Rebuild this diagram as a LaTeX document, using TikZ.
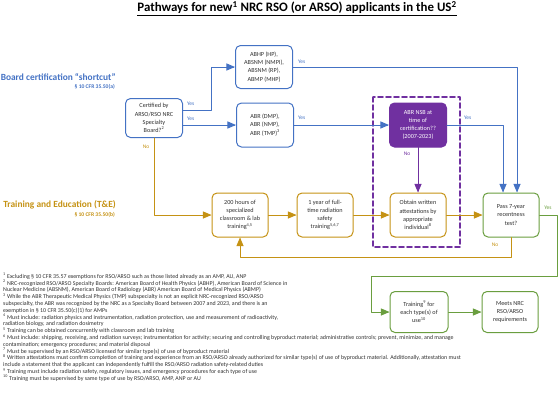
\documentclass[tikz,border=0pt]{standalone}
\usepackage{fontspec}
\setmainfont{Carlito}
\usetikzlibrary{arrows}
\definecolor{bcblue}{HTML}{4472C4}
\definecolor{tegold}{HTML}{C59214}
\definecolor{rtgreen}{HTML}{6A9E3F}
\definecolor{nsbpurple}{HTML}{7030A0}
\definecolor{boxtext}{HTML}{303030}

\begin{document}
\begin{tikzpicture}[line cap=round,line join=round,>=triangle 45,x=1pt,y=-1pt,
  box/.style={draw,line width=1pt,rounded corners=5pt,fill=white,text=boxtext,align=center,
    minimum width=57pt,minimum height=43pt,inner sep=1pt,font=\fontsize{6.2}{8.2}\selectfont},
  bbox/.style={box,draw=bcblue},
  gbox/.style={box,draw=tegold},
  rbox/.style={box,draw=rtgreen},
  bline/.style={draw=bcblue,line width=1pt},
  gline/.style={draw=tegold,line width=1pt},
  rline/.style={draw=rtgreen,line width=1pt},
  yn/.style={font=\fontsize{5.5}{6}\selectfont,inner sep=1pt}]
\useasboundingbox (0,0) rectangle (560,407);

% heading
\node (title) at (297,8.5) {\fontsize{12.9}{14}\selectfont\bfseries\underline{Pathways for new\textsuperscript{1} NRC RSO (or ARSO) applicants in the US\textsuperscript{2}}};

% the two routes
\node[anchor=east,text=bcblue,inner sep=0pt] (bclabel) at (116,77) {\fontsize{9.4}{11}\selectfont\bfseries Board certification ``shortcut''};
\node[anchor=east,text=bcblue,inner sep=0pt] (bccfr) at (115,87) {\fontsize{5.6}{6}\selectfont\bfseries § 10 CFR 35.50(a)};
\node[anchor=east,text=tegold,inner sep=0pt] (telabel) at (116,205) {\fontsize{9.4}{11}\selectfont\bfseries Training and Education (T\&E)};
\node[anchor=east,text=tegold,inner sep=0pt] (tecfr) at (115,215) {\fontsize{5.6}{6}\selectfont\bfseries § 10 CFR 35.50(b)};

% boards
\node[bbox,minimum height=39pt] (cert) at (154,118) {Certified by\\ARSO/RSO NRC\\Specialty\\Board?\textsuperscript{2}};
\node[bbox] (abhp) at (264,67) {ABHP (HP),\\ABSNM (NMPI),\\ABSNM (RP),\\ABMP (MHP)};
\node[bbox,minimum height=44pt] (abr) at (265,125) {ABR (DMP),\\ABR (NMP),\\ABR (TMP)\textsuperscript{3}};

% NSB question inside the dashed frame
\draw[nsbpurple,line width=1.6pt,dash pattern=on 5pt off 3pt] (373,97) rectangle (460,247);
\node[box,draw=nsbpurple,fill=nsbpurple,text=white,minimum height=44pt] (nsb) at (418,125) {ABR NSB at\\time of\\certification??\\(2007-2023)};

% T&E chain
\node[gbox,minimum width=56pt,minimum height=44pt] (hours) at (240,215) {200 hours of\\specialized\\classroom \& lab\\training\textsuperscript{4,5}};
\node[gbox,minimum width=56pt,minimum height=44pt] (year) at (325,215) {1 year of full-\\time radiation\\safety\\training\textsuperscript{5,6,7}};
\node[gbox,minimum width=56pt,minimum height=44pt] (obtain) at (418,215) {Obtain written\\attestations by\\appropriate\\individual\textsuperscript{8}};
\node[rbox,minimum width=56pt,minimum height=44pt] (pass) at (511,215) {Pass 7-year\\recentness\\test?};
\node[rbox,minimum width=58pt,minimum height=41pt] (train) at (419,312) {Training\textsuperscript{9} for\\each type(s) of\\use\textsuperscript{10}};
\node[rbox,minimum width=56pt,minimum height=41pt] (meets) at (510,312) {Meets NRC\\RSO/ARSO\\requirements};

% board connectors
\draw[bline,->] ([yshift=8pt]cert.east) -- ++(28,0) |- (abhp.west);
\node[yn,text=bcblue,anchor=west] at (186,104) {Yes};
\draw[bline,->] (cert.east |- abr.west) -- (abr.west);
\node[yn,text=bcblue,anchor=west] at (186,119) {Yes};
\draw[bline,->] (abhp.east) -| ([xshift=6pt]pass.north);
\node[yn,text=bcblue,anchor=west] at (297,62) {Yes};
\draw[bline,->] (abr.east) -- (nsb.west);
\node[yn,text=bcblue,anchor=west] at (297,118) {Yes};
\draw[bline,->] (nsb.east) -| ([xshift=-8pt]pass.north);
\node[yn,text=bcblue,anchor=west] at (463,118) {Yes};
\draw[nsbpurple,line width=1pt,->] (nsb.south) -- (obtain.north);
\node[yn,text=nsbpurple] at (407,154) {No};

% T&E connectors
\draw[gline,->] (cert.south) |- (hours.west);
\node[yn,text=tegold] at (146,147) {No};
\draw[gline,->] (hours) -- (year);
\draw[gline,->] (year) -- (obtain);
\draw[gline,->] (obtain) -- (pass);
\draw[gline,->] (pass.south) -- ++(0,20) -| (hours.south);
\node[yn,text=tegold] at (495,245) {No};

% recentness passed
\draw[rline,->] (pass.east) -- ++(18,0) -- ++(0,61) -| ([xshift=-18pt]train.west) -- (train.west);
\node[yn,text=rtgreen] at (548,208) {Yes};
\draw[rline,->] (train) -- (meets);

% notes
\node[anchor=north west,align=left,inner sep=0pt,text=boxtext,font=\fontsize{5.92}{6.8}\selectfont] (notes) at (3,273) {%
\textsuperscript{1} Excluding § 10 CFR 35.57 exemptions for RSO/ARSO such as those listed already as an AMP, AU, ANP\\
\textsuperscript{2} NRC-recognized RSO/ARSO Specialty Boards: American Board of Health Physics (ABHP), American Board of Science in\\
Nuclear Medicine (ABSNM), American Board of Radiology (ABR) American Board of Medical Physics (ABMP)\\
\textsuperscript{3} While the ABR Therapeutic Medical Physics (TMP) subspecialty is not an explicit NRC-recognized RSO/ARSO\\
subspecialty, the ABR was recognized by the NRC as a Specialty Board between 2007 and 2023, and there is an\\
exemption in § 10 CFR 35.50(c)(1) for AMPs\\
\textsuperscript{4} Must include: radiation physics and instrumentation, radiation protection, use and measurement of radioactivity,\\
radiation biology, and radiation dosimetry\\
\textsuperscript{5} Training can be obtained concurrently with classroom and lab training\\
\textsuperscript{6} Must include: shipping, receiving, and radiation surveys; instrumentation for activity; securing and controlling byproduct material; administrative controls; prevent, minimize, and manage\\
contamination; emergency procedures; and material disposal\\
\textsuperscript{7} Must be supervised by an RSO/ARSO licensed for similar type(s) of use of byproduct material\\
\textsuperscript{8} Written attestations must confirm completion of training and experience from an RSO/ARSO already authorized for similar type(s) of use of byproduct material. Additionally, attestation must\\
include a statement that the applicant can independently fulfill the RSO/ARSO radiation safety-related duties\\
\textsuperscript{9} Training must include radiation safety, regulatory issues, and emergency procedures for each type of use\\
\textsuperscript{10} Training must be supervised by same type of use by RSO/ARSO, AMP, ANP or AU};
\end{tikzpicture}
\end{document}
